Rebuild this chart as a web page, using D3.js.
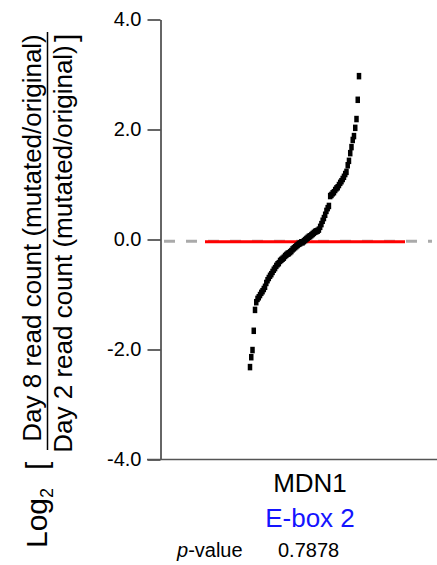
<!DOCTYPE html>
<html><head><meta charset="utf-8">
<script src="https://cdn.jsdelivr.net/npm/d3@7"></script>
<style>body{margin:0;background:#fff} svg{display:block} text{font-family:"Liberation Sans",Arial,Helvetica,sans-serif}</style>
</head><body><svg id="c" width="437" height="565"></svg>
<script>
const yTicks = [4, 2, 0, -2, -4];
const values = [-2.32,-2.14,-2.01,-1.66,-1.28,-1.14,-1.08,-1.05,-1.01,-0.97,
  -0.94,-0.90,-0.86,-0.79,-0.74,-0.70,-0.66,-0.63,-0.59,-0.55,
  -0.52,-0.48,-0.45,-0.43,-0.39,-0.37,-0.35,-0.33,-0.30,-0.28,
  -0.26,-0.25,-0.23,-0.21,-0.18,-0.16,-0.14,-0.12,-0.10,-0.08,
  -0.07,-0.05,-0.05,-0.03,-0.01,0.01,0.03,0.05,0.06,0.08,
  0.10,0.12,0.14,0.15,0.16,0.18,0.23,0.28,0.34,0.39,
  0.45,0.52,0.57,0.61,0.79,0.81,0.84,0.86,0.90,0.93,
  0.95,0.99,1.03,1.06,1.10,1.14,1.19,1.23,1.35,1.43,
  1.57,1.68,1.81,1.88,2.03,2.19,2.54,2.97];
const gene = "MDN1";
const element = "E-box 2";
const pValue = "0.7878";
const medianValue = -0.04;
const referenceValue = -0.03;
const numeratorLabel = "Day 8 read count (mutated/original)";
const denominatorLabel = "Day 2 read count (mutated/original)";

const svg = d3.select("#c");
const y = d3.scaleLinear().domain([-4, 4]).range([459.5, 19.5]);
const x = d3.scaleLinear().domain([0, values.length - 1]).range([250, 359]);

// reference dashed line
svg.append("line").attr("x1", 164).attr("x2", 432)
  .attr("y1", y(referenceValue)).attr("y2", y(referenceValue))
  .attr("stroke", "#aaa").attr("stroke-width", 3).attr("stroke-dasharray", "11,11");

// median red line
svg.append("line").attr("x1", 205).attr("x2", 405)
  .attr("y1", y(medianValue)).attr("y2", y(medianValue))
  .attr("stroke", "#ff0000").attr("stroke-width", 3);

// points
svg.append("g").selectAll("rect").data(values).join("rect")
  .attr("x", (d, i) => x(i) - 2.25).attr("y", d => y(d) - 3.25)
  .attr("width", 4.5).attr("height", 6.5).attr("fill", "#000");

// y axis
const ax = svg.append("g").attr("transform", "translate(160.5,0)")
  .call(d3.axisLeft(y).tickValues(yTicks).tickFormat(d => d.toFixed(1)).tickSize(13).tickSizeOuter(0).tickPadding(6));
ax.select(".domain").attr("stroke", "#333").attr("stroke-width", 1.5);
ax.selectAll(".tick line").attr("stroke", "#333").attr("stroke-width", 1.5);
ax.selectAll(".tick text").attr("font-size", 20).attr("fill", "#000")
  .attr("font-family", "'Liberation Sans',Arial,sans-serif");

// bottom line
svg.append("line").attr("x1", 147).attr("x2", 437)
  .attr("y1", y(-4)).attr("y2", y(-4)).attr("stroke", "#555").attr("stroke-width", 1.5);

// y title
svg.append("text").attr("transform", "translate(41,238) rotate(-90)")
  .attr("text-anchor", "middle").attr("font-size", 26).text(numeratorLabel);
svg.append("line").attr("x1", 47.5).attr("x2", 47.5).attr("y1", 450).attr("y2", 32)
  .attr("stroke", "#000").attr("stroke-width", 1.5);
svg.append("text").attr("transform", "translate(72,249) rotate(-90)")
  .attr("text-anchor", "middle").attr("font-size", 26).text(denominatorLabel);
const lg = svg.append("text").attr("transform", "translate(47,548) rotate(-90)")
  .attr("text-anchor", "start").attr("font-size", 30);
lg.append("tspan").text("Log");
lg.append("tspan").attr("font-size", 18).attr("dy", 6).text("2");
svg.append("text").attr("transform", "translate(47,470) rotate(-90)")
  .attr("text-anchor", "start").attr("font-size", 30).text("[");
svg.append("text").attr("transform", "translate(76,42) rotate(-90)")
  .attr("text-anchor", "start").attr("font-size", 30).text("]");

// bottom labels
svg.append("text").attr("x", 310).attr("y", 492).attr("text-anchor", "middle")
  .attr("font-size", 26).attr("fill", "#000").text(gene);
svg.append("text").attr("x", 310).attr("y", 527).attr("text-anchor", "middle")
  .attr("font-size", 26).attr("fill", "#1414ff").text(element);
const pv = svg.append("text").attr("x", 177).attr("y", 557).attr("font-size", 20);
pv.append("tspan").attr("font-style", "italic").text("p");
pv.append("tspan").text("-value");
svg.append("text").attr("x", 278).attr("y", 557).attr("font-size", 20).text(pValue);
</script></body></html>
